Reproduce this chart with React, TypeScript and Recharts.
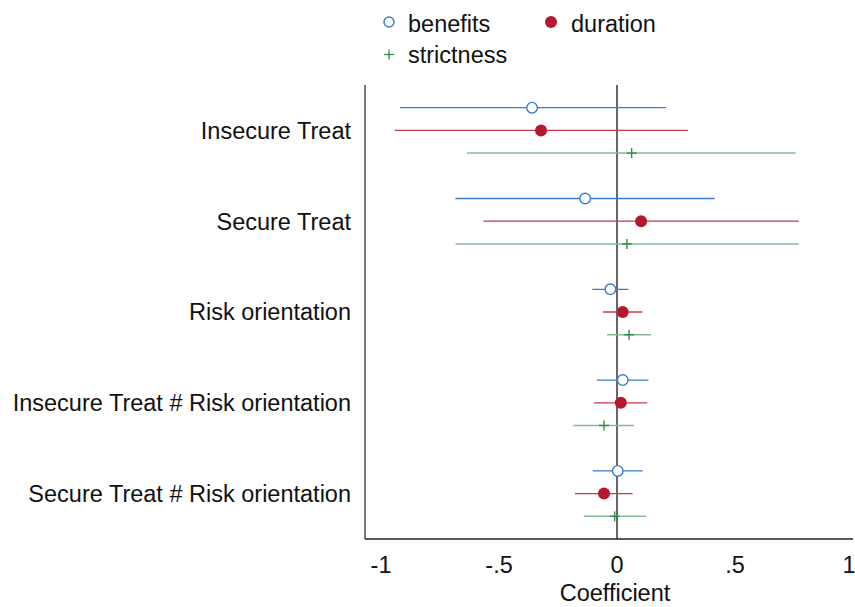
import {
  ScatterChart, Scatter, XAxis, YAxis, ErrorBar, ReferenceLine, Legend,
} from 'recharts';

const categories = [
  'Insecure Treat',
  'Secure Treat',
  'Risk orientation',
  'Insecure Treat # Risk orientation',
  'Secure Treat # Risk orientation',
];

// point estimates and 95% CI bounds
const benefitsCoef = [-0.36, -0.135, -0.028, 0.024, 0.003];
const benefitsLo = [-0.92, -0.685, -0.105, -0.085, -0.103];
const benefitsHi = [0.208, 0.414, 0.048, 0.133, 0.109];

const durationCoef = [-0.322, 0.102, 0.024, 0.016, -0.055];
const durationLo = [-0.942, -0.566, -0.059, -0.097, -0.178];
const durationHi = [0.3, 0.771, 0.107, 0.128, 0.066];

const strictnessCoef = [0.062, 0.042, 0.051, -0.055, -0.01];
const strictnessLo = [-0.636, -0.684, -0.042, -0.185, -0.141];
const strictnessHi = [0.757, 0.77, 0.144, 0.072, 0.122];

const xTicks = [-1, -0.5, 0, 0.5, 1];

const FONT = '"Liberation Sans", Arial, Helvetica, sans-serif';
const FS = 23.5;
const BLUE = '#3a7dc9';
const RED = '#b5172f';
const RED_LINE = '#c43a50';
const GREEN = '#2e8b4a';
const GREEN_LINE = '#86ba95';

function buildRows(coef: number[], lo: number[], hi: number[], offset: number) {
  return coef.map((c, i) => ({
    x: c,
    y: i + offset,
    err: [c - lo[i], hi[i] - c],
  }));
}

const benefitsData = buildRows(benefitsCoef, benefitsLo, benefitsHi, -0.25);
const durationData = buildRows(durationCoef, durationLo, durationHi, 0);
const strictnessData = buildRows(strictnessCoef, strictnessLo, strictnessHi, 0.25);

const fmtCoef = (v: number) => (v === 0 ? '0' : String(v).replace('0.', '.'));

const HollowCircle = (p: any) => (
  <circle cx={p.cx} cy={p.cy} r={5.3} fill="#fff" stroke={BLUE} strokeWidth={1.4} />
);
const FilledCircle = (p: any) => (
  <circle cx={p.cx} cy={p.cy} r={6} fill={RED} stroke="none" />
);
const Plus = (p: any) => (
  <g stroke={GREEN} strokeWidth={1.4}>
    <line x1={p.cx - 5} y1={p.cy} x2={p.cx + 5} y2={p.cy} />
    <line x1={p.cx} y1={p.cy - 5} x2={p.cx} y2={p.cy + 5} />
  </g>
);

function LegendContent() {
  return (
    <svg width={855} height={80} style={{ fontFamily: FONT }}>
      <circle cx={389} cy={22} r={5} fill="#fff" stroke={BLUE} strokeWidth={1.4} />
      <text x={408} y={31.7} fontSize={FS} fill="#111">benefits</text>
      <circle cx={551} cy={22} r={6} fill={RED} />
      <text x={571} y={31.7} fontSize={FS} fill="#111">duration</text>
      <g stroke={GREEN} strokeWidth={1.3}>
        <line x1={384} y1={54.5} x2={394} y2={54.5} />
        <line x1={389} y1={49.5} x2={389} y2={59.5} />
      </g>
      <text x={408} y={63.3} fontSize={FS} fill="#111">strictness</text>
    </svg>
  );
}

export default function App() {
  return (
    <div style={{ position: 'absolute', left: 0, top: 0, fontFamily: FONT, background: '#fff' }}>
      <ScatterChart width={855} height={607} margin={{ top: 85, right: 2, bottom: 0, left: 0 }}>
        <XAxis
          type="number"
          dataKey="x"
          domain={[-1.068, 1]}
          ticks={xTicks}
          tickFormatter={fmtCoef}
          allowDataOverflow
          height={68}
          tickLine={false}
          tickSize={0}
          tickMargin={17}
          axisLine={{ stroke: '#222', strokeWidth: 1.3 }}
          tick={{ fontSize: FS, fill: '#111' }}
          label={{ value: 'Coefficient', position: 'insideBottom', offset: 6, dx: 6, fontSize: FS, fill: '#111' }}
        />
        <YAxis
          type="number"
          dataKey="y"
          domain={[-0.5, 4.5]}
          reversed
          ticks={[0, 1, 2, 3, 4]}
          tickFormatter={(v: number) => categories[v] ?? ''}
          width={365}
          tickLine={false}
          tickSize={0}
          tickMargin={14}
          axisLine={{ stroke: '#333', strokeWidth: 1.3 }}
          tick={{ fontSize: FS, fill: '#111' }}
          interval={0}
        />
        <ReferenceLine x={0} stroke="#333" strokeWidth={1.5} />
        <Legend
          verticalAlign="middle"
          align="center"
          wrapperStyle={{ top: 0, left: 0, width: 855, height: 80 }}
          content={LegendContent}
        />
        <Scatter name="benefits" data={benefitsData} shape={HollowCircle} isAnimationActive={false}>
          <ErrorBar dataKey="err" direction="x" width={0} stroke={BLUE} strokeWidth={1.3} isAnimationActive={false} />
        </Scatter>
        <Scatter name="duration" data={durationData} shape={FilledCircle} isAnimationActive={false}>
          <ErrorBar dataKey="err" direction="x" width={0} stroke={RED_LINE} strokeWidth={1.3} isAnimationActive={false} />
        </Scatter>
        <Scatter name="strictness" data={strictnessData} shape={Plus} isAnimationActive={false}>
          <ErrorBar dataKey="err" direction="x" width={0} stroke={GREEN_LINE} strokeWidth={1.5} isAnimationActive={false} />
        </Scatter>
      </ScatterChart>
    </div>
  );
}
